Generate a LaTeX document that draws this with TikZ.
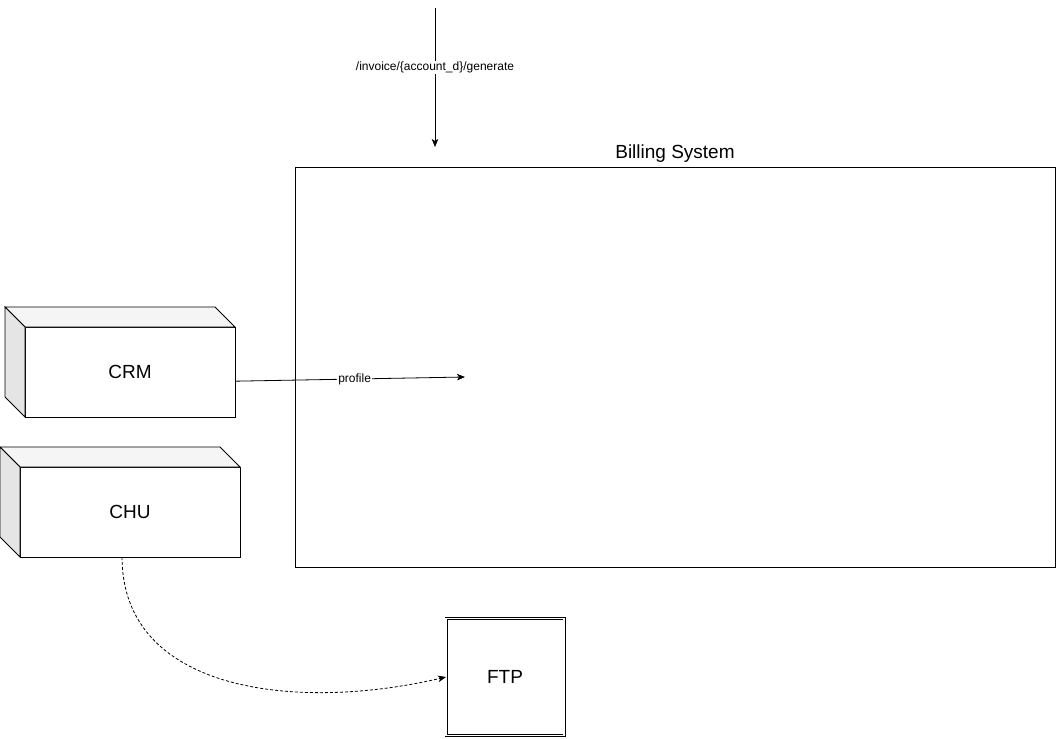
\documentclass[tikz,border=0pt]{standalone}
\usepackage{fontspec}
\setmainfont{Liberation Sans}
\usetikzlibrary{arrows.meta,positioning}

\begin{document}
\begin{tikzpicture}[->,>={Stealth[length=8pt,width=6.5pt,inset=2pt]},x=1pt,y=-1pt,line width=0.8pt]
  \tikzstyle{every node}=[font=\fontsize{19}{22}\selectfont,outer sep=0pt]
  \tikzstyle{system}=[draw,minimum width=760pt,minimum height=400pt]
  \tikzstyle{front}=[draw,fill=white,minimum height=90pt]
  \tikzstyle{topface}=[-,draw,fill=black!4]
  \tikzstyle{sideface}=[-,draw,fill=black!10]
  \tikzstyle{store}=[draw,double,double distance=1.8pt,line width=0.6pt,
                     minimum width=118pt,minimum height=117pt]
  \tikzstyle{small}=[font=\fontsize{12}{14}\selectfont,fill=white,inner sep=1pt]
  \useasboundingbox (0,0) rectangle (1056,738);

  \node[system]                 (billing) at (675,367) {};
  \node[above=1pt of billing]   (title)              {Billing System};
  \node[front,minimum width=210pt] (crm) at (130,372) {CRM};
  \node[front,minimum width=220pt] (chu) at (130,512) {CHU};
  \node[store]                  (ftp)     at (505,677) {FTP};

  % 3d faces
  \path[topface]  (crm.north west) -- ++(-20,-20) -- ++(210,0) -- (crm.north east) -- cycle;
  \path[sideface] (crm.north west) -- ++(-20,-20) -- ++(0,90) -- (crm.south west) -- cycle;
  \path[topface]  (chu.north west) -- ++(-20,-20) -- ++(220,0) -- (chu.north east) -- cycle;
  \path[sideface] (chu.north west) -- ++(-20,-20) -- ++(0,90) -- (chu.south west) -- cycle;

  \coordinate (api)  at (435,8);
  \coordinate (apiend) at (435,147);
  \coordinate (profileend) at (465,377);

  \draw (api) -- node[small,pos=.43] {/invoice/\{account\_d\}/generate} (apiend);
  \draw (crm.-5) -- node[small,pos=.52] {profile} (profileend);
  \draw[dash pattern=on 3pt off 2pt] (chu.-100) .. controls +(0,135) and +(-150,35) .. (ftp.west);
\end{tikzpicture}
\end{document}
